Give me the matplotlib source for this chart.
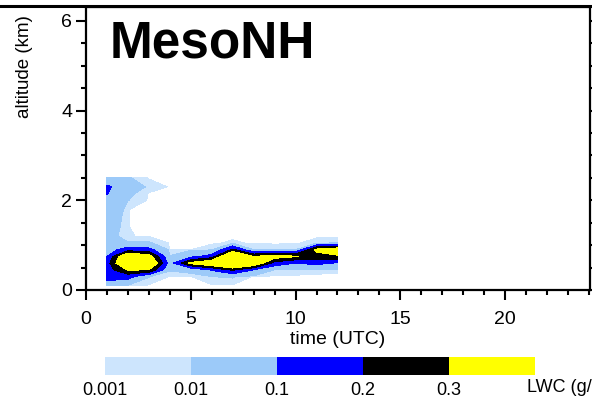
import matplotlib
matplotlib.use("Agg")
import matplotlib.pyplot as plt
import numpy as np
from matplotlib.lines import Line2D

plt.rcParams['font.family'] = ['Liberation Sans', 'DejaVu Sans']

# data: LWC (g/kg) on a time x altitude grid
time_utc = [1, 2, 3, 4, 5, 6, 7, 8, 9, 10, 11, 12]
altitude = [0.1, 0.3, 0.45, 0.6, 0.75, 0.9, 1.05, 1.2, 1.4, 1.6, 1.8, 2.0, 2.15, 2.3, 2.5]

# one list per hour, altitude ascending
lwc_t01 = [0.05, 0.14, 0.15, 0.15, 0.098, 0.05, 0.03, 0.02, 0.025, 0.03, 0.045, 0.065, 0.105, 0.12, 0.02]
lwc_t02 = [0.008, 0.14, 0.31, 0.5, 0.45, 0.15, 0.012, 0.0011, 0.0011, 0.0011, 0.0011, 0.0105, 0.015, 0.02, 0.012]
lwc_t03 = [0, 0.011, 0.3, 0.48, 0.35, 0.13, 0.012, 0.0008, 0, 0, 0, 0, 0, 0.008, 0]
lwc_t04 = [0, 0.0005, 0.012, 0.05, 0.011, 0.0005, 0, 0, 0, 0, 0, 0, 0, 0, 0]
lwc_t05 = [0, 0.0008, 0.02, 0.33, 0.07, 0.001, 0, 0, 0, 0, 0, 0, 0, 0, 0]
lwc_t06 = [0, 0.01, 0.11, 0.42, 0.14, 0.005, 0, 0, 0, 0, 0, 0, 0, 0, 0]
lwc_t07 = [0, 0.012, 0.22, 0.52, 0.52, 0.22, 0.002, 0, 0, 0, 0, 0, 0, 0, 0]
lwc_t08 = [0, 0, 0.1, 0.42, 0.3, 0.008, 0, 0, 0, 0, 0, 0, 0, 0, 0]
lwc_t09 = [0, 0, 0.01, 0.16, 0.36, 0.006, 0, 0, 0, 0, 0, 0, 0, 0, 0]
lwc_t10 = [0, 0, 0.005, 0.1, 0.31, 0.007, 0, 0, 0, 0, 0, 0, 0, 0, 0]
lwc_t11 = [0, 0, 0.003, 0.13, 0.25, 0.33, 0.004, 0, 0, 0, 0, 0, 0, 0, 0]
lwc_t12 = [0, 0, 0.002, 0.09, 0.28, 0.4, 0.006, 0, 0, 0, 0, 0, 0, 0, 0]

levels = [0.001, 0.01, 0.1, 0.2, 0.3, 1.0]
level_labels = ['0.001', '0.01', '0.1', '0.2', '0.3']
colors = ['#cde5fd', '#9ccaf9', '#0000ff', '#000000', '#ffff00']

lwc = np.array([lwc_t01, lwc_t02, lwc_t03, lwc_t04, lwc_t05, lwc_t06,
                lwc_t07, lwc_t08, lwc_t09, lwc_t10, lwc_t11, lwc_t12]).T

fig = plt.figure(figsize=(5.92, 4.01), dpi=100)
ax = fig.add_axes([86/592, 1-290/401, 504/592, 283/401])

cs = ax.contourf(time_utc, altitude, lwc, levels=levels, colors=colors)

ax.set_xlim(0, 24.05)
ax.set_ylim(0, 6.31)
ax.set_xticks([0, 5, 10, 15, 20])
ax.set_yticks([0, 2, 4, 6])
ax.set_xticks(np.arange(0, 25, 1), minor=True)
ax.set_yticks(np.arange(0, 6.5, 0.5), minor=True)
ax.tick_params(which='major', direction='out', length=7, width=1.5, labelsize=14, pad=3,
               right=True)
ax.tick_params(axis='x', which='major', pad=8)
ax.tick_params(which='minor', direction='out', length=3.5, width=1.5, right=True)
for s in ax.spines.values():
    s.set_linewidth(1.6)

ax.set_xlabel('time (UTC)', fontsize=14, labelpad=2)
ax.set_ylabel('altitude (km)', fontsize=13.5)
ax.yaxis.set_label_coords(-0.105, 0.79)

ax.text(0.0476, 0.823, 'MesoNH', transform=ax.transAxes, fontsize=37,
        fontweight='bold', va='baseline', ha='left')

# line left over from the panel above
fig.add_artist(Line2D([0, 590/592], [1-6/401, 1-6/401], color='black', lw=2.2,
                      transform=fig.transFigure))

cax = fig.add_axes([105/592, 1-375/401, 430/592, 18/401])
cb = fig.colorbar(cs, cax=cax, orientation='horizontal', spacing='uniform')
cb.outline.set_visible(False)
cb.set_ticks(levels[:5])
cb.set_ticklabels(level_labels)
cax.tick_params(length=0, labelsize=13, pad=5)
# the unit label runs off the right edge, as in the reference
fig.text(527/592, 1-388/401, 'LWC (g/kg)', fontsize=13, ha='left', va='center')

fig.savefig('out.png', dpi=100)
